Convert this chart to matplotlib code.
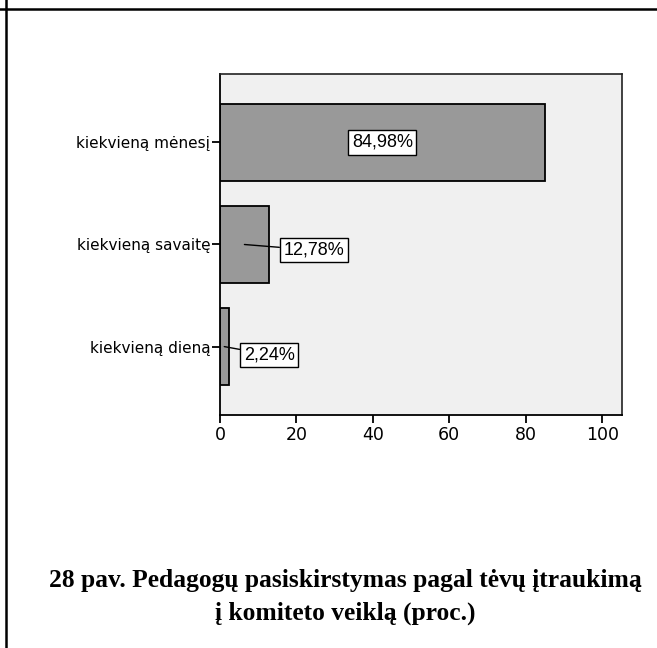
import matplotlib
matplotlib.use("Agg")
import matplotlib.pyplot as plt
from matplotlib.lines import Line2D

categories = ["kiekvieną dieną", "kiekvieną savaitę", "kiekvieną mėnesį"]
values = [2.24, 12.78, 84.98]
value_labels = ["2,24%", "12,78%", "84,98%"]
xticks = [0, 20, 40, 60, 80, 100]
title = "28 pav. Pedagogų pasiskirstymas pagal tėvų įtraukimą\nį komiteto veiklą (proc.)"

W, H = 657, 648
fig = plt.figure(figsize=(W / 100, H / 100), dpi=100)
fig.patch.set_facecolor("white")

ax = fig.add_axes([220 / W, 1 - 415 / H, 402 / W, 341 / H])
ax.set_facecolor("#f0f0f0")
ypos = list(range(len(categories)))
ax.barh(ypos, values, height=0.76, color="#999999", edgecolor="black", linewidth=1.3, zorder=2)
ax.set_xlim(0, 105.2)
ax.set_ylim(-0.67, 2.67)
ax.set_yticks(ypos)
ax.set_yticklabels(categories)
ax.set_xticks(xticks)
ax.set_xticklabels([str(t) for t in xticks])
for lab in ax.get_yticklabels() + ax.get_xticklabels():
    lab.set_fontfamily("DejaVu Sans")
ax.tick_params(axis="y", length=6, width=1.3, labelsize=11, pad=1, direction="out")
ax.tick_params(axis="x", length=6, width=1.3, labelsize=12.5, pad=2, direction="out")
for s in ["left", "bottom"]:
    ax.spines[s].set_linewidth(1.3)
    ax.spines[s].set_color("black")
for s in ["top", "right"]:
    ax.spines[s].set_linewidth(1.2)
    ax.spines[s].set_color("#222222")

bbox = dict(boxstyle="square,pad=0.2", fc="white", ec="black", lw=1.0)
font = dict(family="Liberation Sans", fontsize=13)
# top bar: label inside
ax.text(values[2] / 2, ypos[2], value_labels[2], ha="center", va="center", bbox=bbox, zorder=4, **font)
# middle bar: leader line
ax.annotate(value_labels[1], xy=(values[1] / 2, ypos[1]), xytext=(16.6, ypos[1] - 0.055),
            ha="left", va="center", bbox=bbox, zorder=4,
            arrowprops=dict(arrowstyle="-", color="black", lw=1.0, shrinkA=0, shrinkB=0), **font)
# bottom bar
ax.annotate(value_labels[0], xy=(values[0] / 2, ypos[0]), xytext=(6.2, ypos[0] - 0.08),
            ha="left", va="center", bbox=bbox, zorder=4,
            arrowprops=dict(arrowstyle="-", color="black", lw=1.0, shrinkA=0, shrinkB=0), **font)

# page borders
fig.add_artist(Line2D([0, 1], [1 - 9 / H, 1 - 9 / H], transform=fig.transFigure, color="black", lw=1.8))
fig.add_artist(Line2D([6 / W, 6 / W], [0, 1], transform=fig.transFigure, color="black", lw=1.8))

fig.text(345 / W, 1 - 597 / H, title, ha="center", va="center", fontsize=18.4,
         fontweight="bold", family="Liberation Serif", linespacing=1.55)

fig.savefig("out.png", dpi=100)
